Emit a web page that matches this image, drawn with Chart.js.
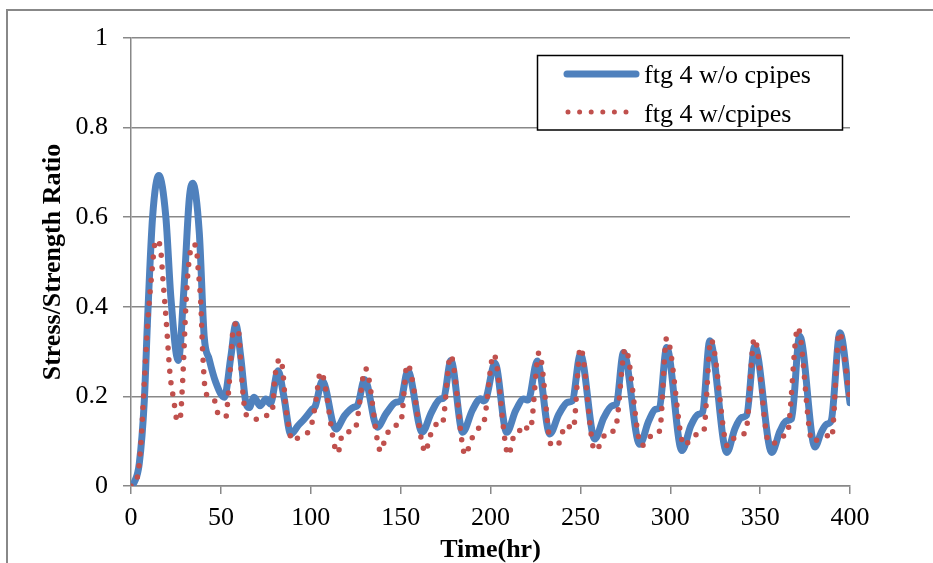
<!DOCTYPE html>
<html>
<head>
<meta charset="utf-8">
<script src="https://cdn.jsdelivr.net/npm/chart.js@4.4.1/dist/chart.umd.min.js"></script>
<style>
  html, body { margin: 0; padding: 0; background: #fff; }
  #chartContainer { display: block; }
</style>
</head>
<body>
<canvas id="chartContainer" width="933" height="563"></canvas>
<script>
// readings, hour -> stress/strength ratio
const hoursNoPipes = [
  0, 2, 4.6, 7.4, 9.3, 12, 15.5, 19.4, 22.2, 26.3,
  29.6, 32.4, 34.3, 38, 40.7, 43.5, 47.2, 51.9, 55.6, 58.3,
  61, 63.9, 65.7, 68.5, 71.8, 75, 77.5, 81.8, 85, 88.9,
  93, 96.3, 101, 102.5, 106.5, 113.9, 119, 124, 126, 130,
  137, 142, 147.5, 150, 154, 162, 167, 172, 174, 178,
  184.5, 190, 194.5, 196, 197.5, 202.5, 209, 214, 218.5, 221,
  226, 233, 238, 243, 245.5, 250, 258, 263, 267.6, 270,
  274, 283, 288, 291.7, 294, 298, 306.5, 311.5, 315.6, 318,
  322, 331.5, 336, 339.8, 342.5, 347, 356.5, 361, 364.8, 367.5,
  372, 380.5, 384, 387, 389.5, 394.4, 400
];
const ratioNoPipes = [
  0, 0.01, 0.05, 0.19, 0.38, 0.60, 0.693, 0.60, 0.42, 0.28,
  0.45, 0.64, 0.676, 0.565, 0.335, 0.283, 0.231, 0.198, 0.29, 0.361,
  0.29, 0.186, 0.175, 0.198, 0.179, 0.194, 0.183, 0.257, 0.201, 0.116,
  0.135, 0.149, 0.172, 0.178, 0.235, 0.127, 0.158, 0.176, 0.18, 0.238,
  0.131, 0.162, 0.187, 0.19, 0.257, 0.12, 0.163, 0.194, 0.197, 0.28,
  0.12, 0.17, 0.195, 0.19, 0.195, 0.274, 0.12, 0.168, 0.194, 0.192,
  0.279, 0.116, 0.16, 0.187, 0.19, 0.294, 0.105, 0.152, 0.179, 0.183,
  0.298, 0.093, 0.145, 0.171, 0.175, 0.309, 0.079, 0.135, 0.16, 0.165,
  0.324, 0.075, 0.128, 0.153, 0.158, 0.312, 0.075, 0.122, 0.146, 0.15,
  0.335, 0.087, 0.12, 0.138, 0.145, 0.342, 0.186
];

const hoursPipes = [
  0, 1, 3.7, 5.6, 7.4, 9.3, 11.1, 13.9, 16.3, 17.9,
  19.4, 21.8, 23.7, 25.8, 27.3, 28.7, 30.6, 32, 34.3, 36.1,
  37.4, 38.9, 39.8, 41.7, 44, 47.2, 48.5, 52.8, 53.6, 55.2,
  56.5, 58.3, 60, 61.3, 62.8, 64.4, 67.6, 71, 75, 78.5,
  80, 83, 84.4, 86, 88, 89.5, 91.7, 95.7, 100, 102.5,
  105.5,
  115, 117.5, 120, 124.4, 130.5,
  139, 141, 144, 148, 150, 153.7,
  164, 165.5, 168, 171, 173, 177.8,
  186, 189, 192.6, 196, 201.8,
  210, 213, 215, 217.6, 222, 227,
  234, 237, 242, 246, 250,
  258, 262, 264.4, 268, 270, 275,
  284, 288, 291, 294, 298,
  307.8, 311.6, 316.7, 318.5, 322.6,
  332, 335, 340, 342, 346.8,
  355, 358.5, 363.3, 365, 371,
  379, 383, 387.8, 389.7, 394,
  400
];
const ratioPipes = [
  0, 0.003, 0.023, 0.1, 0.231, 0.365, 0.454, 0.549, 0.534, 0.454,
  0.379, 0.246, 0.194, 0.145, 0.15, 0.231, 0.409, 0.491, 0.539, 0.537,
  0.483, 0.402, 0.305, 0.205, 0.203, 0.183, 0.16, 0.154, 0.18, 0.26,
  0.339, 0.362, 0.34, 0.26, 0.186, 0.157, 0.151, 0.148, 0.157, 0.165,
  0.241, 0.284, 0.26, 0.18, 0.127, 0.101, 0.105, 0.114, 0.131, 0.18,
  0.255,
  0.073, 0.115, 0.121, 0.125, 0.262,
  0.077, 0.1, 0.127, 0.136, 0.14, 0.272,
  0.075, 0.1, 0.127, 0.14, 0.137, 0.292,
  0.069, 0.1, 0.127, 0.138, 0.294,
  0.069, 0.11, 0.112, 0.136, 0.125, 0.298,
  0.09, 0.09, 0.136, 0.127, 0.309,
  0.079, 0.1, 0.121, 0.122, 0.136, 0.307,
  0.09, 0.105, 0.122, 0.122, 0.331,
  0.09, 0.106, 0.118, 0.12, 0.327,
  0.088, 0.105, 0.116, 0.12, 0.33,
  0.096, 0.096, 0.112, 0.115, 0.354,
  0.099, 0.105, 0.112, 0.107, 0.343,
  0.19
];

const seriesNames = ['ftg 4 w/o cpipes', 'ftg 4 w/cpipes'];
const xTickValues = [0, 50, 100, 150, 200, 250, 300, 350, 400];
const yTickValues = [0, 0.2, 0.4, 0.6, 0.8, 1];

const serif = 'Liberation Serif, Times New Roman, serif';
const gridGray = '#888888';

function toPoints(xs, ys) {
  return xs.map((x, i) => ({ x: x, y: ys[i] }));
}

// grey frame of the chart object, its right and bottom edges lie outside the picture
const framePlugin = {
  id: 'frame',
  beforeDraw(chart) {
    const ctx = chart.ctx;
    ctx.save();
    ctx.fillStyle = '#fff';
    ctx.fillRect(0, 0, chart.width, chart.height);
    ctx.strokeStyle = gridGray;
    ctx.lineWidth = 2;
    ctx.strokeRect(7, 10, 1000, 1000);
    ctx.restore();
  }
};

// boxed legend sitting inside the plot, top right
const boxLegend = {
  id: 'boxLegend',
  afterDraw(chart) {
    const ctx = chart.ctx;
    const ds = chart.data.datasets;
    ctx.save();
    ctx.fillStyle = '#fff';
    ctx.fillRect(537.5, 55.5, 305, 74.5);
    ctx.strokeStyle = '#000';
    ctx.lineWidth = 1.5;
    ctx.strokeRect(537.5, 55.5, 305, 74.5);

    ctx.lineCap = 'round';
    ctx.strokeStyle = ds[0].borderColor;
    ctx.lineWidth = ds[0].borderWidth;
    ctx.beginPath();
    ctx.moveTo(567, 74);
    ctx.lineTo(636, 74);
    ctx.stroke();

    ctx.strokeStyle = ds[1].borderColor;
    ctx.lineWidth = ds[1].borderWidth - 0.5;
    ctx.setLineDash(ds[1].borderDash);
    ctx.beginPath();
    ctx.moveTo(568, 112);
    ctx.lineTo(628, 112);
    ctx.stroke();
    ctx.setLineDash([]);

    ctx.fillStyle = '#000';
    ctx.font = '26px ' + serif;
    ctx.textBaseline = 'alphabetic';
    ctx.fillText(ds[0].label, 644, 83);
    ctx.fillText(ds[1].label, 644, 121.5);
    ctx.restore();
  }
};

let chartContainer = document.getElementById('chartContainer').getContext('2d');
let chart = new Chart(chartContainer, {
  type: 'line',
  data: {
    datasets: [{
      label: seriesNames[0],
      data: toPoints(hoursNoPipes, ratioNoPipes),
      borderColor: '#4F81BD',
      borderWidth: 7,
      borderCapStyle: 'round',
      borderJoinStyle: 'round',
      cubicInterpolationMode: 'monotone',
      pointRadius: 0,
      fill: false,
      order: 2
    },
    {
      label: seriesNames[1],
      data: toPoints(hoursPipes, ratioPipes),
      borderColor: '#C0504D',
      borderWidth: 5.5,
      borderDash: [0, 11.6],
      borderCapStyle: 'round',
      cubicInterpolationMode: 'monotone',
      pointRadius: 0,
      fill: false,
      order: 1
    }]
  },
  options: {
    responsive: false,
    animation: false,
    devicePixelRatio: 1,
    layout: { padding: { left: 40, top: 38, right: 83, bottom: 0 } },
    plugins: {
      legend: { display: false },
      tooltip: { enabled: false }
    },
    scales: {
      x: {
        type: 'linear',
        min: 0,
        max: 400,
        afterBuildTicks: (scale) => { scale.ticks = xTickValues.map(v => ({ value: v })); },
        afterFit: (scale) => { scale.height = 77; },
        grid: { drawOnChartArea: false, drawTicks: true, tickLength: 8, color: gridGray, lineWidth: 1.5 },
        border: { display: true, color: gridGray, width: 1.5 },
        ticks: {
          color: '#000',
          font: { family: serif, size: 26 },
          padding: 9,
          maxRotation: 0,
          callback: (v) => String(v)
        },
        title: {
          display: true,
          text: 'Time(hr)',
          color: '#000',
          font: { family: serif, size: 26, weight: 'bold', lineHeight: 1 },
          padding: { top: 0, bottom: 0 }
        }
      },
      y: {
        min: 0,
        max: 1,
        afterBuildTicks: (scale) => { scale.ticks = yTickValues.map(v => ({ value: v })); },
        afterFit: (scale) => { scale.width = 91; },
        grid: { drawTicks: true, tickLength: 8, color: gridGray, lineWidth: 1.5 },
        border: { display: true, color: gridGray, width: 1.5 },
        ticks: {
          color: '#000',
          font: { family: serif, size: 26 },
          padding: 15,
          callback: (v) => String(v)
        },
        title: {
          display: true,
          text: 'Stress/Strength Ratio',
          color: '#000',
          font: { family: serif, size: 26, weight: 'bold', lineHeight: 1 },
          padding: { top: 0, bottom: 0 }
        }
      }
    }
  },
  plugins: [framePlugin, boxLegend]
});
</script>
</body>
</html>
